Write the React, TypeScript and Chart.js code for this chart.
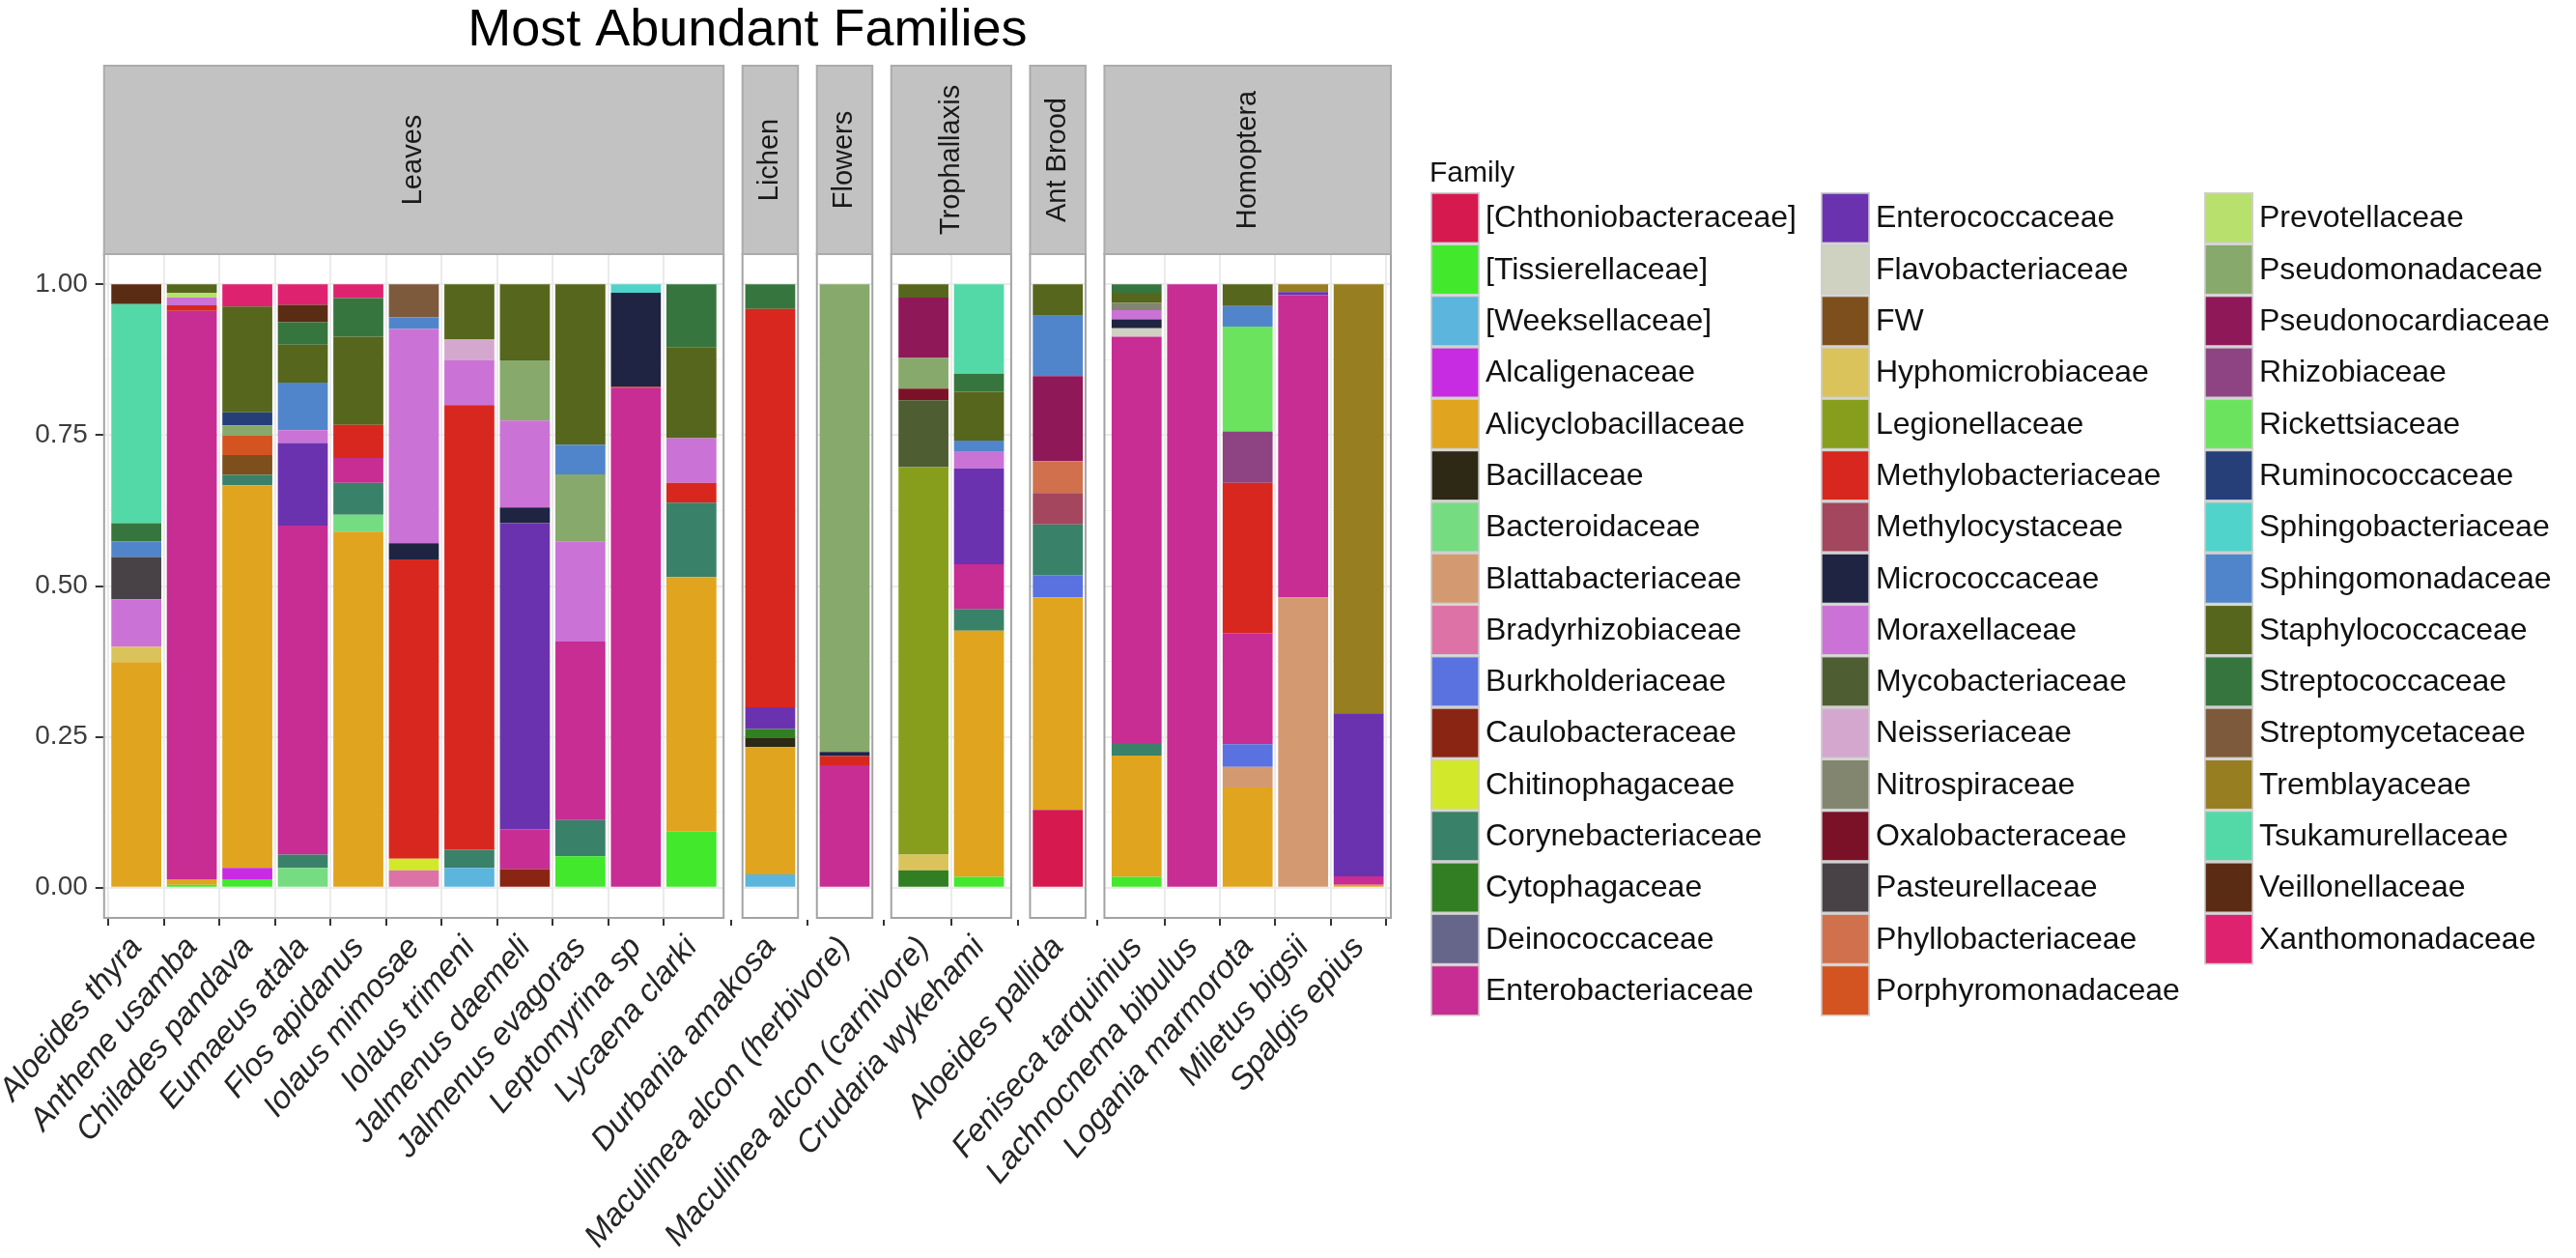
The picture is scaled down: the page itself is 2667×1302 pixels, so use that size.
import React, { useEffect, useRef } from "react";
import { Chart, registerables } from "chart.js";

Chart.register(...registerables);

const FONT = "'Liberation Sans', Arial, Helvetica, sans-serif";

const TITLE = "Most Abundant Families";
const LEGEND_TITLE = "Family";

const families = [
  "[Chthoniobacteraceae]", "[Tissierellaceae]", "[Weeksellaceae]", "Alcaligenaceae",
  "Alicyclobacillaceae", "Bacillaceae", "Bacteroidaceae", "Blattabacteriaceae",
  "Bradyrhizobiaceae", "Burkholderiaceae", "Caulobacteraceae", "Chitinophagaceae",
  "Corynebacteriaceae", "Cytophagaceae", "Deinococcaceae", "Enterobacteriaceae",
  "Enterococcaceae", "Flavobacteriaceae", "FW", "Hyphomicrobiaceae",
  "Legionellaceae", "Methylobacteriaceae", "Methylocystaceae", "Micrococcaceae",
  "Moraxellaceae", "Mycobacteriaceae", "Neisseriaceae", "Nitrospiraceae",
  "Oxalobacteraceae", "Pasteurellaceae", "Phyllobacteriaceae", "Porphyromonadaceae",
  "Prevotellaceae", "Pseudomonadaceae", "Pseudonocardiaceae", "Rhizobiaceae",
  "Rickettsiaceae", "Ruminococcaceae", "Sphingobacteriaceae", "Sphingomonadaceae",
  "Staphylococcaceae", "Streptococcaceae", "Streptomycetaceae", "Tremblayaceae",
  "Tsukamurellaceae", "Veillonellaceae", "Xanthomonadaceae",
];

const familyColors = [
  "#D61A50", "#42E82C", "#5BB5DC", "#C72CE2",
  "#E0A41E", "#2D2914", "#76DC82", "#D39A72",
  "#DD72A6", "#5A72E0", "#8B2513", "#D2E82A",
  "#3A8169", "#327E22", "#65668A", "#C72D93",
  "#6B32AF", "#CFD1C1", "#7D4F1D", "#DBC35C",
  "#879E1C", "#D8271F", "#A4465E", "#1F2443",
  "#CB72D6", "#4F5D33", "#D4A8CE", "#82866F",
  "#7B1127", "#484246", "#D1704C", "#D45421",
  "#B8E06C", "#87A96B", "#8F1858", "#8E4482",
  "#6CE35E", "#273F79", "#50D3CA", "#5185CB",
  "#56661C", "#36763E", "#7D5A3B", "#967E21",
  "#53D9A7", "#5B2C14", "#DE2270",
];

const facetNames = ["Leaves", "Lichen", "Flowers", "Trophallaxis", "Ant Brood", "Homoptera"];
const facetSizes = [11, 1, 1, 2, 1, 5];

const sampleNames = [
  "Aloeides thyra", "Anthene usamba", "Chilades pandava", "Eumaeus atala",
  "Flos apidanus", "Iolaus mimosae", "Iolaus trimeni", "Jalmenus daemeli",
  "Jalmenus evagoras", "Leptomyrina sp", "Lycaena clarki",
  "Durbania amakosa",
  "Maculinea alcon (herbivore)",
  "Maculinea alcon (carnivore)", "Crudaria wykehami",
  "Aloeides pallida",
  "Feniseca tarquinius", "Lachnocnema bibulus", "Logania marmorota", "Miletus bigsii", "Spalgis epius",
];

const yMajorTicks = [0, 0.25, 0.5, 0.75, 1];
const yMinorTicks = [0.125, 0.375, 0.625, 0.875];

// relative abundance per sample: [family, value]
const aloeidesThyra: [string, number][] = [
  ["Alicyclobacillaceae", 0.374], ["Hyphomicrobiaceae", 0.025], ["Moraxellaceae", 0.079],
  ["Pasteurellaceae", 0.070], ["Sphingomonadaceae", 0.026], ["Streptococcaceae", 0.030],
  ["Tsukamurellaceae", 0.363], ["Veillonellaceae", 0.033],
];
const antheneUsamba: [string, number][] = [
  ["[Tissierellaceae]", 0.005], ["Alicyclobacillaceae", 0.009], ["Enterobacteriaceae", 0.942],
  ["Methylobacteriaceae", 0.009], ["Moraxellaceae", 0.013], ["Prevotellaceae", 0.008],
  ["Staphylococcaceae", 0.014],
];
const chiladesPandava: [string, number][] = [
  ["[Tissierellaceae]", 0.014], ["Alcaligenaceae", 0.019], ["Alicyclobacillaceae", 0.634],
  ["Corynebacteriaceae", 0.017], ["FW", 0.033], ["Porphyromonadaceae", 0.032],
  ["Pseudomonadaceae", 0.017], ["Ruminococcaceae", 0.022], ["Staphylococcaceae", 0.175],
  ["Xanthomonadaceae", 0.037],
];
const eumaeusAtala: [string, number][] = [
  ["Bacteroidaceae", 0.033], ["Corynebacteriaceae", 0.022], ["Enterobacteriaceae", 0.545],
  ["Enterococcaceae", 0.137], ["Moraxellaceae", 0.021], ["Sphingomonadaceae", 0.079],
  ["Staphylococcaceae", 0.063], ["Streptococcaceae", 0.037], ["Veillonellaceae", 0.029],
  ["Xanthomonadaceae", 0.034],
];
const flosApidanus: [string, number][] = [
  ["Alicyclobacillaceae", 0.590], ["Bacteroidaceae", 0.028], ["Corynebacteriaceae", 0.053],
  ["Enterobacteriaceae", 0.041], ["Methylobacteriaceae", 0.055], ["Staphylococcaceae", 0.146],
  ["Streptococcaceae", 0.064], ["Xanthomonadaceae", 0.023],
];
const iolausMimosae: [string, number][] = [
  ["Bradyrhizobiaceae", 0.029], ["Chitinophagaceae", 0.019], ["Methylobacteriaceae", 0.496],
  ["Micrococcaceae", 0.027], ["Moraxellaceae", 0.355], ["Sphingomonadaceae", 0.019],
  ["Streptomycetaceae", 0.055],
];
const iolausTrimeni: [string, number][] = [
  ["[Weeksellaceae]", 0.033], ["Corynebacteriaceae", 0.030], ["Methylobacteriaceae", 0.737],
  ["Moraxellaceae", 0.074], ["Neisseriaceae", 0.035], ["Staphylococcaceae", 0.091],
];
const jalmenusDaemeli: [string, number][] = [
  ["Caulobacteraceae", 0.031], ["Enterobacteriaceae", 0.066], ["Enterococcaceae", 0.507],
  ["Micrococcaceae", 0.026], ["Moraxellaceae", 0.144], ["Pseudomonadaceae", 0.100],
  ["Staphylococcaceae", 0.126],
];
const jalmenusEvagoras: [string, number][] = [
  ["[Tissierellaceae]", 0.052], ["Corynebacteriaceae", 0.060], ["Enterobacteriaceae", 0.296],
  ["Moraxellaceae", 0.166], ["Pseudomonadaceae", 0.111], ["Sphingomonadaceae", 0.049],
  ["Staphylococcaceae", 0.266],
];
const leptomyrinaSp: [string, number][] = [
  ["Enterobacteriaceae", 0.828], ["Methylobacteriaceae", 0.002], ["Micrococcaceae", 0.156],
  ["Sphingobacteriaceae", 0.014],
];
const lycaenaClarki: [string, number][] = [
  ["[Tissierellaceae]", 0.093], ["Alicyclobacillaceae", 0.422], ["Corynebacteriaceae", 0.123],
  ["Methylobacteriaceae", 0.033], ["Moraxellaceae", 0.074], ["Staphylococcaceae", 0.150],
  ["Streptococcaceae", 0.105],
];
const durbaniaAmakosa: [string, number][] = [
  ["[Weeksellaceae]", 0.022], ["Alicyclobacillaceae", 0.211], ["Bacillaceae", 0.015],
  ["Cytophagaceae", 0.015], ["Enterococcaceae", 0.036], ["Methylobacteriaceae", 0.660],
  ["Streptococcaceae", 0.041],
];
const maculineaHerbivore: [string, number][] = [
  ["Enterobacteriaceae", 0.203], ["Methylobacteriaceae", 0.015], ["Micrococcaceae", 0.007],
  ["Pseudomonadaceae", 0.775],
];
const maculineaCarnivore: [string, number][] = [
  ["Cytophagaceae", 0.029], ["Hyphomicrobiaceae", 0.026], ["Legionellaceae", 0.642],
  ["Mycobacteriaceae", 0.111], ["Oxalobacteraceae", 0.019], ["Pseudomonadaceae", 0.051],
  ["Pseudonocardiaceae", 0.100], ["Staphylococcaceae", 0.022],
];
const crudariaWykehami: [string, number][] = [
  ["[Tissierellaceae]", 0.018], ["Alicyclobacillaceae", 0.408], ["Corynebacteriaceae", 0.036],
  ["Enterobacteriaceae", 0.074], ["Enterococcaceae", 0.159], ["Moraxellaceae", 0.027],
  ["Sphingomonadaceae", 0.019], ["Staphylococcaceae", 0.081], ["Streptococcaceae", 0.030],
  ["Tsukamurellaceae", 0.148],
];
const aloeidesPallida: [string, number][] = [
  ["[Chthoniobacteraceae]", 0.129], ["Alicyclobacillaceae", 0.352], ["Burkholderiaceae", 0.037],
  ["Corynebacteriaceae", 0.084], ["Methylocystaceae", 0.052], ["Phyllobacteriaceae", 0.053],
  ["Pseudonocardiaceae", 0.141], ["Sphingomonadaceae", 0.100], ["Staphylococcaceae", 0.052],
];
const fenisecaTarquinius: [string, number][] = [
  ["[Tissierellaceae]", 0.018], ["Alicyclobacillaceae", 0.201], ["Corynebacteriaceae", 0.021],
  ["Enterobacteriaceae", 0.673], ["Flavobacteriaceae", 0.014], ["Micrococcaceae", 0.015],
  ["Moraxellaceae", 0.015], ["Nitrospiraceae", 0.012], ["Staphylococcaceae", 0.017],
  ["Streptococcaceae", 0.014],
];
const lachnocnemaBibulus: [string, number][] = [
  ["Enterobacteriaceae", 1.0],
];
const loganiaMarmorota: [string, number][] = [
  ["Alicyclobacillaceae", 0.166], ["Blattabacteriaceae", 0.034], ["Burkholderiaceae", 0.038],
  ["Enterobacteriaceae", 0.184], ["Methylobacteriaceae", 0.249], ["Rhizobiaceae", 0.085],
  ["Rickettsiaceae", 0.174], ["Sphingomonadaceae", 0.034], ["Staphylococcaceae", 0.036],
];
const miletusBigsii: [string, number][] = [
  ["Blattabacteriaceae", 0.481], ["Enterobacteriaceae", 0.501], ["Enterococcaceae", 0.005],
  ["Tremblayaceae", 0.013],
];
const spalgisEpius: [string, number][] = [
  ["Alicyclobacillaceae", 0.005], ["Enterobacteriaceae", 0.014], ["Enterococcaceae", 0.270],
  ["Tremblayaceae", 0.711],
];

const sampleCompositions = [
  aloeidesThyra, antheneUsamba, chiladesPandava, eumaeusAtala, flosApidanus,
  iolausMimosae, iolausTrimeni, jalmenusDaemeli, jalmenusEvagoras, leptomyrinaSp,
  lycaenaClarki, durbaniaAmakosa, maculineaHerbivore, maculineaCarnivore,
  crudariaWykehami, aloeidesPallida, fenisecaTarquinius, lachnocnemaBibulus,
  loganiaMarmorota, miletusBigsii, spalgisEpius,
];

// ---- layout (pixels / facet geometry) ----
const W = 2667;
const H = 1302;
const PLOT_LEFT = 105;
const PLOT_RIGHT = 1440;
const PLOT_TOP = 263;
const PLOT_BOTTOM = 950;
const STRIP_TOP = 68;
const EXPAND_MULTI = 0.58;
const SINGLE_WIDTH = 1.0;
const PANEL_GAP = 0.34;
const LEGEND_COL_X = [1481, 1885, 2282];
const LEGEND_ROWS = 16;

type Panel = { name: string; start: number; end: number };
const panels: Panel[] = [];
const barPos: number[] = [];
let cursor = 0;
facetSizes.forEach((n, f) => {
  const width = n === 1 ? SINGLE_WIDTH : n - 1 + 2 * EXPAND_MULTI;
  const first = n === 1 ? cursor + SINGLE_WIDTH / 2 : cursor + EXPAND_MULTI;
  for (let i = 0; i < n; i++) barPos.push(first + i);
  panels.push({ name: facetNames[f], start: cursor, end: cursor + width });
  cursor += width + PANEL_GAP;
});
const X_MAX = cursor - PANEL_GAP;

const isMajor = (v: number) => Math.abs(v * 4 - Math.round(v * 4)) < 1e-9;

const facetPlugin = {
  id: "facetPanels",
  beforeDatasetsDraw(chart: any) {
    const { ctx, chartArea, scales } = chart;
    const x = scales.x;
    ctx.save();
    ctx.fillStyle = "#ffffff";
    for (let i = 0; i < panels.length - 1; i++) {
      const a = x.getPixelForValue(panels[i].end);
      const b = x.getPixelForValue(panels[i + 1].start);
      ctx.fillRect(a, chartArea.top - 2, b - a, chartArea.bottom - chartArea.top + 4);
    }
    ctx.restore();
  },
  afterDatasetsDraw(chart: any) {
    const { ctx, chartArea, scales } = chart;
    const x = scales.x;
    ctx.save();
    panels.forEach((p) => {
      const x0 = x.getPixelForValue(p.start);
      const x1 = x.getPixelForValue(p.end);
      ctx.strokeStyle = "#a3a3a3";
      ctx.lineWidth = 2;
      ctx.strokeRect(x0, chartArea.top, x1 - x0, chartArea.bottom - chartArea.top);
      ctx.fillStyle = "#c2c2c2";
      ctx.fillRect(x0, STRIP_TOP, x1 - x0, chartArea.top - STRIP_TOP);
      ctx.strokeStyle = "#ababab";
      ctx.lineWidth = 2;
      ctx.strokeRect(x0, STRIP_TOP, x1 - x0, chartArea.top - STRIP_TOP);
      ctx.save();
      ctx.translate((x0 + x1) / 2, (STRIP_TOP + chartArea.top) / 2);
      ctx.rotate(-Math.PI / 2);
      ctx.fillStyle = "#1a1a1a";
      ctx.font = `29px ${FONT}`;
      ctx.textAlign = "center";
      ctx.textBaseline = "middle";
      ctx.fillText(p.name, 0, 0);
      ctx.restore();
    });
    ctx.restore();
  },
  afterDraw(chart: any) {
    const { ctx } = chart;
    ctx.save();
    ctx.fillStyle = "#111111";
    ctx.font = `30px ${FONT}`;
    ctx.textAlign = "left";
    ctx.textBaseline = "alphabetic";
    ctx.fillText(LEGEND_TITLE, 1480, 188);

    const keyW = 51;
    const pitch = 53.3;
    const top = 199;
    ctx.font = `32px ${FONT}`;
    families.forEach((fam, fi) => {
      const c = Math.floor(fi / LEGEND_ROWS);
      const r = fi % LEGEND_ROWS;
      const colX = LEGEND_COL_X[c];
      const y = top + r * pitch;
      ctx.fillStyle = "#cfcfcf";
      ctx.fillRect(colX, y, keyW, pitch);
      ctx.fillStyle = familyColors[fi];
      ctx.fillRect(colX + 1.7, y + 1.7, keyW - 3.4, pitch - 3.4);
      ctx.fillStyle = "#111111";
      ctx.textBaseline = "middle";
      ctx.fillText(fam, colX + keyW + 6, y + pitch / 2 + 1);
    });
    ctx.restore();
  },
};

export default function App() {
  const canvasRef = useRef<HTMLCanvasElement | null>(null);

  useEffect(() => {
    if (!canvasRef.current) return;
    Chart.defaults.font.family = FONT;

    const datasets = families.map((fam, fi) => ({
      label: fam,
      data: sampleCompositions.map((comp, si) => {
        const e = comp.find(([n]) => n === fam);
        return { x: barPos[si], y: e ? e[1] : null };
      }),
      backgroundColor: familyColors[fi],
      borderWidth: 0,
      barPercentage: 0.9,
      categoryPercentage: 1.0,
    }));

    const chart = new Chart(canvasRef.current, {
      type: "bar",
      data: { datasets: datasets as any },
      plugins: [facetPlugin],
      options: {
        responsive: false,
        animation: false,
        devicePixelRatio: 1,
        layout: { padding: { left: 0, right: W - PLOT_RIGHT, top: 0, bottom: 0 } },
        plugins: {
          legend: { display: false },
          tooltip: { enabled: false },
          title: {
            display: true,
            text: TITLE,
            fullSize: false,
            align: "center",
            color: "#000000",
            font: { size: 54, weight: "normal", family: FONT, lineHeight: 1.2 },
            padding: { top: 0, bottom: PLOT_TOP - 54 * 1.2 },
          },
        },
        scales: {
          x: {
            type: "linear",
            stacked: true,
            bounds: "data",
            min: 0,
            max: X_MAX,
            offset: false,
            afterBuildTicks: (sc: any) => {
              sc.ticks = barPos.map((v) => ({ value: v }));
            },
            afterFit: (sc: any) => {
              sc.height = H - PLOT_BOTTOM;
            },
            ticks: {
              autoSkip: false,
              minRotation: 50,
              maxRotation: 50,
              padding: 4,
              color: "#262626",
              font: { size: 33, style: "italic", family: FONT },
              callback: (_v: any, i: number) => sampleNames[i],
            },
            grid: {
              color: "#ebebeb",
              lineWidth: 2,
              tickColor: "#333333",
              tickLength: 8,
              tickWidth: 2,
            },
            border: { display: false },
          },
          y: {
            type: "linear",
            stacked: true,
            bounds: "data",
            min: -0.05,
            max: 1.05,
            afterBuildTicks: (sc: any) => {
              sc.ticks = [...yMajorTicks, ...yMinorTicks].sort((a, b) => a - b).map((v) => ({ value: v }));
            },
            afterFit: (sc: any) => {
              sc.width = PLOT_LEFT;
            },
            ticks: {
              padding: 8,
              color: "#3d3d3d",
              font: { size: 28, family: FONT },
              callback: (v: any) => (isMajor(Number(v)) ? Number(v).toFixed(2) : ""),
            },
            grid: {
              color: (c: any) => (isMajor(c.tick.value) ? "#ebebeb" : "#f3f3f3"),
              lineWidth: (c: any) => (isMajor(c.tick.value) ? 2 : 1),
              tickColor: (c: any) => (isMajor(c.tick.value) ? "#333333" : "rgba(0,0,0,0)"),
              tickLength: 9,
              tickWidth: 2,
            },
            border: { display: false },
          },
        },
      } as any,
    });

    return () => chart.destroy();
  }, []);

  return (
    <div style={{ position: "absolute", left: 0, top: 0, width: W, height: H, background: "#ffffff" }}>
      <canvas ref={canvasRef} width={W} height={H} style={{ width: W, height: H, display: "block" }} />
    </div>
  );
}
